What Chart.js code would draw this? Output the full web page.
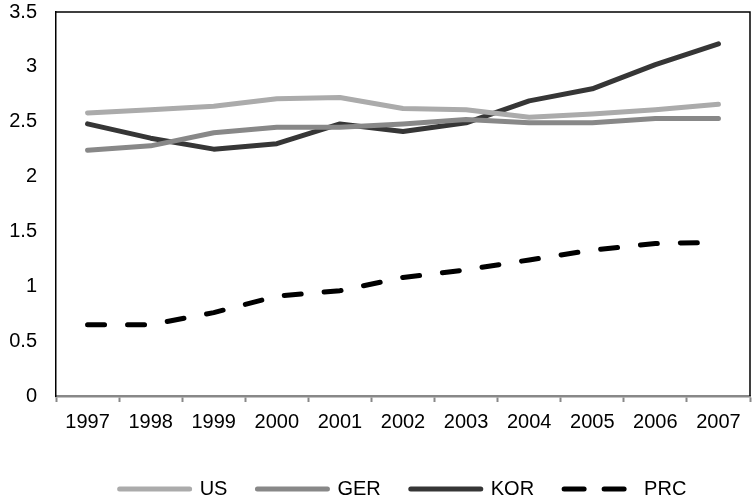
<!DOCTYPE html>
<html>
<head>
<meta charset="utf-8">
<script src="https://cdn.jsdelivr.net/npm/chart.js@4"></script>
<style>
html,body{margin:0;padding:0;background:#fff;}
#wrap{width:752px;height:499px;}
</style>
</head>
<body>
<div id="wrap"><canvas id="chart"></canvas></div>
<script>
// ===== DATA =====
const years = ["1997","1998","1999","2000","2001","2002","2003","2004","2005","2006","2007"];
const us  = [2.58,2.61,2.64,2.71,2.72,2.62,2.61,2.54,2.57,2.61,2.66];
const ger = [2.24,2.28,2.40,2.45,2.45,2.48,2.52,2.49,2.49,2.53,2.53];
const kor = [2.48,2.35,2.25,2.30,2.48,2.41,2.49,2.69,2.80,3.02,3.21];
const prc = [0.65,0.65,0.76,0.91,0.96,1.08,1.15,1.24,1.33,1.39,1.40];
const yTicks = [0,0.5,1,1.5,2,2.5,3,3.5];

const FONT = "'Liberation Sans', Arial, sans-serif";

// ===== BORDER (top + right) + legend placement =====
const frame = {
id:"frame",
afterLayout(chart){
let lg = chart.legend;
if(!lg) return;
let a = chart.chartArea;
// centre legend under plot area, nudge down a bit
let shift = (a.left + a.right)/2 - (lg.left + lg.right)/2;
lg.left += shift;
lg.right += shift;
lg.top += 10;
lg.bottom += 10;
},
afterDraw(chart){
let a = chart.chartArea, c = chart.ctx;
c.save();
c.strokeStyle="#000";
c.lineWidth=1.5;
c.beginPath();
c.moveTo(a.left, a.top);
c.lineTo(a.right, a.top);
c.lineTo(a.right, a.bottom);
c.stroke();
c.restore();
}
};

function ds(label, data, color, dash){
return {
label:label,
data:data,
borderColor:color,
backgroundColor:color,
borderWidth:5,
borderCapStyle:"round",
borderJoinStyle:"round",
borderDash:dash||[],
pointRadius:0,
tension:0,
fill:false
};
}

new Chart(document.getElementById("chart"),{
type:"line",
data:{
labels:years,
datasets:[
ds("US", us, "#ababab"),
ds("GER", ger, "#888888"),
ds("KOR", kor, "#363636"),
ds("PRC", prc, "#000000", [17,23])
]
},
options:{
responsive:true,
maintainAspectRatio:false,
animation:false,
layout:{padding:{top:0,right:2,left:0,bottom:0}},
plugins:{
tooltip:{enabled:false},
legend:{
position:"bottom",
labels:{
boxWidth:70,
boxHeight:0,
padding:30,
color:"#000",
font:{family:FONT,size:20}
}
}
},
scales:{
x:{
offset:true,
grid:{
offset:true,
drawOnChartArea:false,
tickLength:6,
tickWidth:2,
tickColor:"#888"
},
border:{display:true,color:"#888",width:2.5},
ticks:{color:"#000",padding:8,maxRotation:0,font:{family:FONT,size:20}},
afterFit(s){ s.height = 43; }
},
y:{
min:0,
max:3.5,
afterBuildTicks(s){ s.ticks = yTicks.map(v=>({value:v})); },
grid:{display:false,drawTicks:false},
border:{display:true,color:"#000",width:1.5},
ticks:{
color:"#000",
padding:19,
font:{family:FONT,size:20},
callback:(v)=>String(v)
},
afterFit(s){ s.width = 56; s.paddingTop = 12; s.paddingBottom = 12; }
}
}
},
plugins:[frame]
});
</script>
</body>
</html>
